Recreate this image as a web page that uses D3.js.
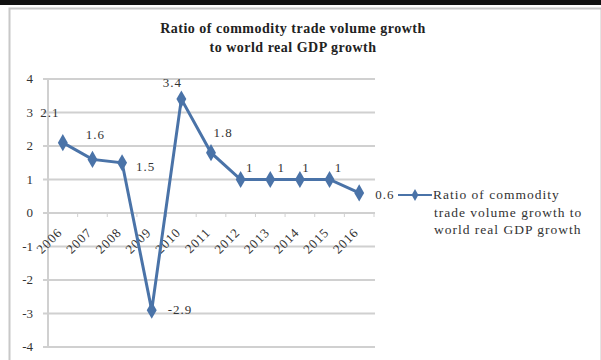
<!DOCTYPE html>
<html>
<head>
<meta charset="utf-8">
<script src="https://cdn.jsdelivr.net/npm/d3@7"></script>
<style>
  body { margin: 0; background: #fff; }
</style>
</head>
<body>
<script>
var years = ['2006', '2007', '2008', '2009', '2010', '2011', '2012', '2013', '2014', '2015', '2016'];
var ratios = [2.1, 1.6, 1.5, -2.9, 3.4, 1.8, 1, 1, 1, 1, 0.6];
var yTicks = [4, 3, 2, 1, 0, -1, -2, -3, -4];
var titleLines = ['Ratio of  commodity trade volume growth', 'to world real GDP growth'];
var legendLines = ['Ratio of  commodity', 'trade volume growth to', 'world real GDP growth'];

var width = 601;
var height = 360;
var plotLeft = 48;
var plotRight = 374;
var plotTop = 79;
var plotBottom = 347;
var lineColor = '#4a73a8';
var serif = '"Liberation Serif", "Times New Roman", serif';

var svg = d3.select('body')
  .append('svg')
  .attr('width', width)
  .attr('height', height);

// dark strip along the top and the light chart frame
svg.append('rect')
  .attr('x', 0).attr('y', 0)
  .attr('width', width).attr('height', 5)
  .attr('fill', '#111');

svg.append('rect')
  .attr('x', 9.5).attr('y', 8.5)
  .attr('width', width - 9).attr('height', height)
  .attr('fill', 'none')
  .attr('stroke', '#c8c8c8')
  .attr('stroke-width', 2);

var x = d3.scaleBand()
  .domain(years)
  .range([plotLeft, plotRight]);

var y = d3.scaleLinear()
  .domain([-4, 4])
  .range([plotBottom, plotTop]);

function cx(i) {
  return x(years[i]) + x.bandwidth() / 2;
}

// gridlines
svg.append('g')
  .selectAll('line')
  .data(yTicks)
  .enter()
  .append('line')
  .attr('x1', plotLeft - 5)
  .attr('x2', plotRight + 1)
  .attr('y1', function(d) { return y(d); })
  .attr('y2', function(d) { return y(d); })
  .attr('stroke', '#d0d0d0')
  .attr('stroke-width', 2);

// value axis line
svg.append('line')
  .attr('x1', plotLeft).attr('x2', plotLeft)
  .attr('y1', plotTop).attr('y2', plotBottom)
  .attr('stroke', '#d0d0d0')
  .attr('stroke-width', 2);

// y tick labels
svg.append('g')
  .selectAll('text')
  .data(yTicks)
  .enter()
  .append('text')
  .text(function(d) { return d; })
  .attr('x', 33)
  .attr('y', function(d) { return y(d) + 4; })
  .attr('text-anchor', 'end')
  .attr('font-family', serif)
  .attr('font-size', '13px')
  .attr('fill', '#333');

// category tick marks on the zero line
svg.append('g')
  .selectAll('line')
  .data(years)
  .enter()
  .append('line')
  .attr('x1', function(d) { return x(d) + x.bandwidth(); })
  .attr('x2', function(d) { return x(d) + x.bandwidth(); })
  .attr('y1', y(0))
  .attr('y2', y(0) + 4)
  .attr('stroke', '#d0d0d0');

// rotated year labels
svg.append('g')
  .selectAll('text')
  .data(years)
  .enter()
  .append('text')
  .text(function(d) { return d; })
  .attr('transform', function(d, i) {
    return 'translate(' + (cx(i) - 3) + ',' + (y(0) + 17) + ') rotate(-45)';
  })
  .attr('text-anchor', 'end')
  .attr('dy', '0.35em')
  .attr('letter-spacing', '1px')
  .attr('font-family', serif)
  .attr('font-size', '13px')
  .attr('fill', '#333');

var line = d3.line()
  .x(function(d, i) { return cx(i); })
  .y(function(d) { return y(d); });

svg.append('path')
  .datum(ratios)
  .attr('d', line)
  .attr('fill', 'none')
  .attr('stroke', lineColor)
  .attr('stroke-width', 3);

var diamond = d3.symbol().type(d3.symbolDiamond).size(85);

svg.append('g')
  .selectAll('path')
  .data(ratios)
  .enter()
  .append('path')
  .attr('d', diamond)
  .attr('transform', function(d, i) {
    return 'translate(' + cx(i) + ',' + y(d) + ')';
  })
  .attr('fill', lineColor);

// data labels (offsets follow the original placement)
var labelDx = [-13, 3, 14, 16, -9, 12, 9, 11, 6, 9, 16];
var labelDy = [-26, -20, 8, 4, -12, -16, -8, -8, -8, -8, 6];
var labelStart = [false, false, true, true, false, false, false, false, false, false, true];

svg.append('g')
  .selectAll('text')
  .data(ratios)
  .enter()
  .append('text')
  .text(function(d) { return d; })
  .attr('x', function(d, i) { return cx(i) + labelDx[i]; })
  .attr('y', function(d, i) { return y(d) + labelDy[i]; })
  .attr('text-anchor', function(d, i) { return labelStart[i] ? 'start' : 'middle'; })
  .attr('letter-spacing', '1px')
  .attr('font-family', serif)
  .attr('font-size', '13px')
  .attr('fill', '#333');

// title
svg.append('g')
  .selectAll('text')
  .data(titleLines)
  .enter()
  .append('text')
  .text(function(d) { return d; })
  .attr('x', 293)
  .attr('y', function(d, i) { return 33 + i * 19; })
  .attr('text-anchor', 'middle')
  .attr('letter-spacing', '0.5px')
  .attr('font-family', serif)
  .attr('font-weight', 'bold')
  .attr('font-size', '14px')
  .attr('fill', '#222');

// legend
var legend = svg.append('g');

legend.append('line')
  .attr('x1', 398).attr('x2', 432)
  .attr('y1', 195).attr('y2', 195)
  .attr('stroke', lineColor)
  .attr('stroke-width', 2);

legend.append('path')
  .attr('d', d3.symbol().type(d3.symbolDiamond).size(40))
  .attr('transform', 'translate(415,195)')
  .attr('fill', lineColor);

legend.selectAll('text')
  .data(legendLines)
  .enter()
  .append('text')
  .text(function(d) { return d; })
  .attr('x', function(d, i) { return i === 0 ? 433 : 434; })
  .attr('y', function(d, i) { return 199 + i * 17.5; })
  .attr('letter-spacing', '1px')
  .attr('font-family', serif)
  .attr('font-size', '13.5px')
  .attr('fill', '#333');
</script>
</body>
</html>
